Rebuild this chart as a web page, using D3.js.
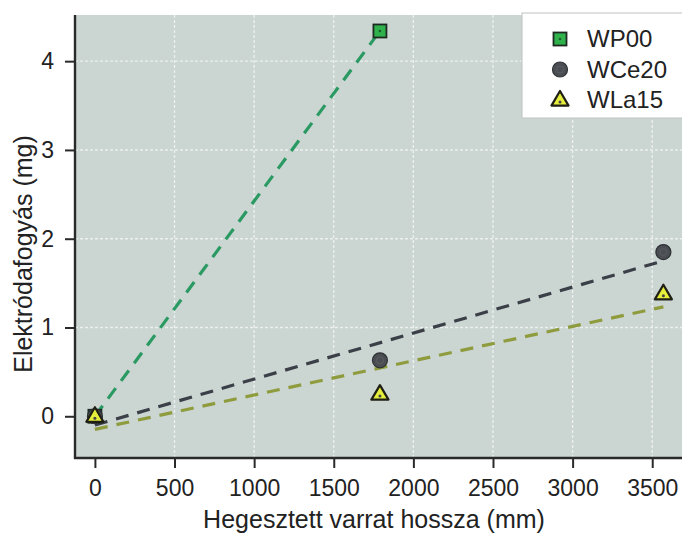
<!DOCTYPE html>
<html>
<head>
<meta charset="utf-8">
<script src="https://cdn.jsdelivr.net/npm/d3@7/dist/d3.min.js"></script>
<style>
  html, body { margin: 0; padding: 0; background: #ffffff; }
  svg { display: block; }
  text { font-family: "Liberation Sans", Arial, sans-serif; fill: #222; }
</style>
</head>
<body>
<svg id="chart" width="682" height="537"></svg>
<script>
// Weld seam length (mm) for each measurement
const seamLength = [0, 1790, 3570];

// Electrode consumption (mg) per electrode type
const wp00 = [0, 4.34];            // measured at 0 and 1790 mm
const wce20 = [0, 0.63, 1.85];
const wla15 = [0, 0.25, 1.38];

const seriesNames = ["WP00", "WCe20", "WLa15"];
const xTicks = [0, 500, 1000, 1500, 2000, 2500, 3000, 3500];
const yTicks = [0, 1, 2, 3, 4];

const W = 682, H = 537;
const plot = { left: 75, top: 15, right: 700, bottom: 458 };

const svg = d3.select("#chart");

const x = d3.scaleLinear().domain([-125, 3800]).range([plot.left, plot.right]);
const y = d3.scaleLinear().domain([-0.47, 4.52]).range([plot.bottom, plot.top]);

// plot background
svg.append("rect")
  .attr("x", plot.left).attr("y", plot.top)
  .attr("width", plot.right - plot.left).attr("height", plot.bottom - plot.top)
  .attr("fill", "#cbd5d2");

// grid
const grid = svg.append("g").attr("stroke", "#f2f5f4").attr("stroke-width", 1.4)
  .attr("stroke-dasharray", "3,2").attr("opacity", 0.85);
grid.selectAll("line.v").data(xTicks.filter(d => d > 0)).join("line")
  .attr("x1", d => x(d)).attr("x2", d => x(d))
  .attr("y1", plot.top).attr("y2", plot.bottom);
grid.selectAll("line.h").data(yTicks.filter(d => d > 0)).join("line")
  .attr("y1", d => y(d)).attr("y2", d => y(d))
  .attr("x1", plot.left).attr("x2", plot.right);

// least-squares trend line
function fit(xs, ys) {
  const n = ys.length;
  const px = xs.slice(0, n);
  const mx = d3.mean(px), my = d3.mean(ys);
  let sxy = 0, sxx = 0;
  for (let i = 0; i < n; i++) { sxy += (px[i] - mx) * (ys[i] - my); sxx += (px[i] - mx) ** 2; }
  const b = sxy / sxx, a = my - b * mx;
  return { a, b, x0: px[0], x1: px[n - 1] };
}

const series = [
  { name: seriesNames[0], values: wp00, line: "#2a9a62", shape: "square" },
  { name: seriesNames[1], values: wce20, line: "#3b3f47", shape: "circle" },
  { name: seriesNames[2], values: wla15, line: "#8f9c3e", shape: "triangle" }
];

const lines = svg.append("g");
series.slice().reverse().forEach(s => {
  const f = fit(seamLength, s.values);
  lines.append("line")
    .attr("x1", x(f.x0)).attr("y1", y(f.a + f.b * f.x0))
    .attr("x2", x(f.x1)).attr("y2", y(f.a + f.b * f.x1))
    .attr("stroke", s.line).attr("stroke-width", 3.2)
    .attr("stroke-dasharray", "13,9");
});

// markers
function drawMarker(g, shape, cx, cy) {
  if (shape === "square") {
    g.append("rect").attr("x", cx - 6.5).attr("y", cy - 6.5).attr("width", 13).attr("height", 13)
      .attr("fill", "#2fb24c").attr("stroke", "#1d2a22").attr("stroke-width", 1.8);
    g.append("circle").attr("cx", cx).attr("cy", cy).attr("r", 1.3).attr("fill", "#1c5a2a");
  } else if (shape === "circle") {
    g.append("circle").attr("cx", cx).attr("cy", cy).attr("r", 7.5)
      .attr("fill", "#4a4e53").attr("stroke", "#2e3135").attr("stroke-width", 1.2);
    g.append("circle").attr("cx", cx).attr("cy", cy).attr("r", 3.5)
      .attr("fill", "none").attr("stroke", "#5d6166").attr("stroke-width", 0.8);
  } else {
    const r = 9;
    const pts = [[cx, cy - r], [cx + r * 0.95, cy + r * 0.62], [cx - r * 0.95, cy + r * 0.62]];
    g.append("polygon").attr("points", pts.map(p => p.join(",")).join(" "))
      .attr("fill", "#e6ee3c").attr("stroke", "#1f1f14").attr("stroke-width", 2.2)
      .attr("stroke-linejoin", "round");
    g.append("circle").attr("cx", cx).attr("cy", cy + 2).attr("r", 1.5).attr("fill", "#444");
  }
}

// markers: square first, triangles end up on top
const marks = svg.append("g");
series.forEach(s => {
  s.values.forEach((v, i) => drawMarker(marks, s.shape, x(seamLength[i]), y(v)));
});

// axes
const fmt = d3.format("d");
const xAxis = svg.append("g").attr("transform", `translate(0,${plot.bottom})`)
  .call(d3.axisBottom(x).tickValues(xTicks).tickFormat(fmt).tickSize(10).tickSizeOuter(0).tickPadding(12));
const yAxis = svg.append("g").attr("transform", `translate(${plot.left},0)`)
  .call(d3.axisLeft(y).tickValues(yTicks).tickFormat(fmt).tickSize(10).tickSizeOuter(0).tickPadding(11));

[xAxis, yAxis].forEach(a => {
  a.select(".domain").remove();
  a.selectAll(".tick line").attr("stroke", "#2a2a2a").attr("stroke-width", 2);
  a.selectAll(".tick text").attr("font-size", 23).attr("fill", "#222")
    .attr("font-family", "'Liberation Sans', Arial, sans-serif");
});

// axis lines
svg.append("line").attr("x1", plot.left).attr("x2", plot.left)
  .attr("y1", plot.top).attr("y2", plot.bottom + 1)
  .attr("stroke", "#2a2a2a").attr("stroke-width", 2.4);
svg.append("line").attr("x1", plot.left - 1).attr("x2", W)
  .attr("y1", plot.bottom).attr("y2", plot.bottom)
  .attr("stroke", "#2a2a2a").attr("stroke-width", 2.4);

// axis titles
svg.append("text").attr("x", 374).attr("y", 528).attr("text-anchor", "middle")
  .attr("font-size", 25).text("Hegesztett varrat hossza (mm)");
svg.append("text").attr("transform", "translate(32,254) rotate(-90)")
  .attr("text-anchor", "middle").attr("font-size", 25).text("Elektródafogyás (mg)");

// legend
const lg = svg.append("g");
lg.append("rect").attr("x", 522).attr("y", 13).attr("width", 180).attr("height", 105)
  .attr("fill", "#ffffff").attr("stroke", "#bfc4c2").attr("stroke-width", 1);
series.forEach((s, i) => {
  const cy = 39 + i * 30.5;
  drawMarker(lg, s.shape, 560, cy);
  lg.append("text").attr("x", 587).attr("y", cy).attr("dy", "0.35em")
    .attr("font-size", 24).text(s.name);
});
</script>
</body>
</html>
